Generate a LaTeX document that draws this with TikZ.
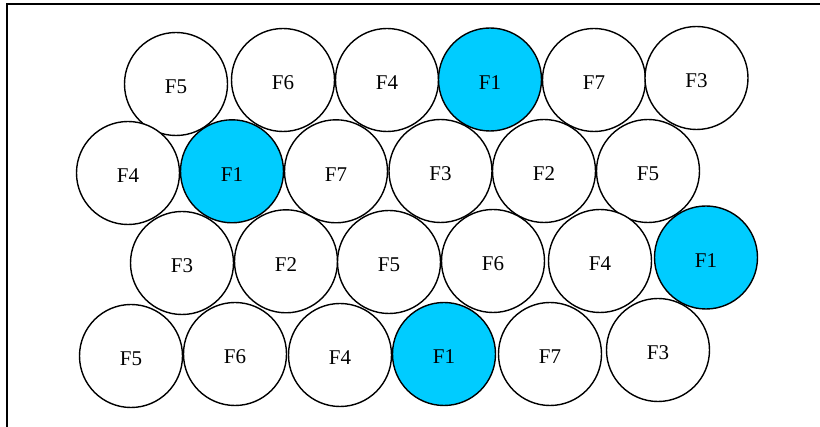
\documentclass[tikz,border=0pt]{standalone}
\usepackage{fontspec}
\setmainfont{Liberation Serif}
\definecolor{cellcyan}{RGB}{0,204,255}
\tikzset{
  cell/.style={circle, draw=black, line width=1.4pt, fill=white, minimum size=103pt, inner sep=0pt,
    font=\fontsize{21}{25}\selectfont, text height=20pt, text depth=0pt},
  hot/.style={cell, fill=cellcyan},
  frame/.style={line width=2pt}
}
\begin{document}
\begin{tikzpicture}[x=1pt,y=-1pt]
\useasboundingbox (0,0) rectangle (820,427);
\fill[white] (0,0) rectangle (820,427);
\coordinate (fb) at (7,427);
\coordinate (fc) at (7,4);
\coordinate (fr) at (820,4);
\draw[frame] (fb) -- (fc) -- (fr);
% row 1
\node[cell] (a1) at (176,84) {F5};
\node[cell] (a2) at (283,80) {F6};
\node[cell] (a3) at (387,80) {F4};
\node[hot]  (a4) at (490,79.5) {F1};
\node[cell] (a5) at (594,80) {F7};
\node[cell] (a6) at (696.5,78) {F3};
% row 2
\node[cell] (b1) at (128,173) {F4};
\node[hot]  (b2) at (232,171.3) {F1};
\node[cell] (b3) at (336,171.3) {F7};
\node[cell] (b4) at (440.5,171) {F3};
\node[cell] (b5) at (544,171) {F2};
\node[cell] (b6) at (648,171) {F5};
% row 3
\node[cell] (c1) at (182,263) {F3};
\node[cell] (c2) at (286,261.3) {F2};
\node[cell] (c3) at (389,262) {F5};
\node[cell] (c4) at (493,261) {F6};
\node[cell] (c5) at (600,261) {F4};
\node[hot]  (c6) at (706,257.5) {F1};
% row 4
\node[cell] (d1) at (131,356) {F5};
\node[cell] (d2) at (235,354) {F6};
\node[cell] (d3) at (340,355) {F4};
\node[hot]  (d4) at (444,354) {F1};
\node[cell] (d5) at (550,354) {F7};
\node[cell] (d6) at (658,350) {F3};
\end{tikzpicture}
\end{document}
